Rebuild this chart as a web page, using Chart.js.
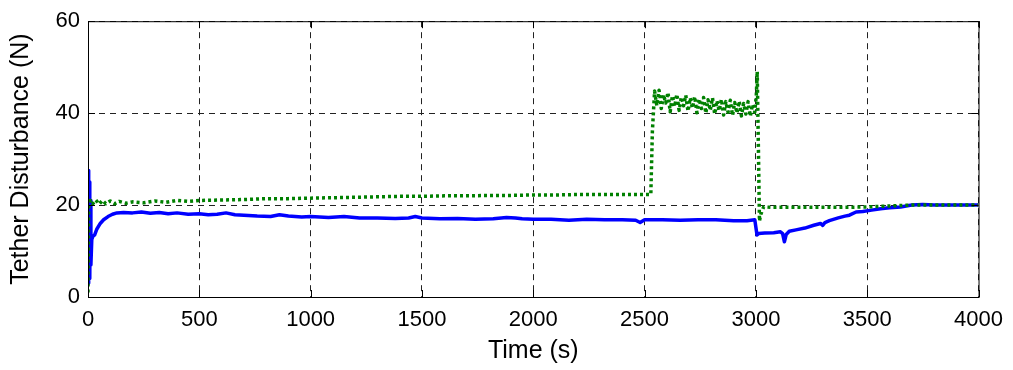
<!DOCTYPE html>
<html>
<head>
<meta charset="utf-8">
<script src="https://cdn.jsdelivr.net/npm/chart.js@4.4.0/dist/chart.umd.min.js"></script>
<style>
  html, body { margin: 0; padding: 0; background: #fff; }
  #wrap { width: 1013px; height: 370px; }
</style>
</head>
<body>
<div id="wrap"><canvas id="tetherChart" width="1013" height="370"></canvas></div>
<script>
// tether disturbance, blue = measured, green = reference (dotted)
const blueTime = [0, 2, 4, 6, 8, 10, 13, 17, 22, 30, 40, 55, 70, 90, 110, 130, 160, 200, 240, 280,
  320, 360, 400, 450, 500, 540, 580, 620, 660, 700, 760, 820, 860, 900, 960, 1000, 1080, 1150, 1220,
  1300, 1380, 1440, 1470, 1500, 1580, 1660, 1740, 1820, 1880, 1920, 1950, 2000, 2080, 2160, 2240,
  2320, 2400, 2460, 2480, 2500, 2580, 2660, 2740, 2820, 2900, 2960, 2995, 3005, 3012, 3040, 3080,
  3110, 3120, 3128, 3136, 3150, 3180, 3220, 3260, 3290, 3300, 3310, 3330, 3370, 3400, 3420, 3450,
  3480, 3520, 3560, 3600, 3650, 3700, 3750, 3800, 3900, 4000];
const blueForce = [3, 27.5, 5, 25, 4, 21, 7, 12.5, 13.2, 13.5, 14.8, 16, 16.8, 17.5, 18, 18.3, 18.4, 18.3, 18.5, 18.2,
  18.4, 18.1, 18.3, 18.0, 18.1, 17.9, 18.0, 18.3, 17.9, 17.8, 17.6, 17.5, 17.9, 17.6, 17.4, 17.5, 17.3, 17.5, 17.2,
  17.2, 17.1, 17.2, 17.5, 17.2, 17.0, 17.1, 16.9, 17.0, 17.3, 17.2, 17.0, 16.9, 16.9, 16.7, 16.9,
  16.8, 16.8, 16.7, 16.2, 16.8, 16.8, 16.7, 16.8, 16.8, 16.6, 16.6, 16.8, 13.5, 13.8, 13.9, 14.0,
  14.2, 13.8, 12.0, 13.6, 14.3, 14.6, 15.0, 15.6, 16.0, 15.6, 16.2, 16.6, 17.2, 17.6, 17.8, 18.5,
  18.6, 18.9, 19.2, 19.4, 19.6, 20.0, 20.1, 20.0, 20.0, 20.0];

const greenTime = [0, 3, 10, 20, 35, 50, 65, 80, 100, 120, 140, 170, 200, 250, 300, 350, 400, 450, 500,
  600, 700, 800, 900, 1000, 1100, 1200, 1300, 1400, 1500, 1600, 1700, 1800, 1900, 2000, 2100, 2200,
  2300, 2400, 2500, 2528, 2535,
  2545, 2555, 2565, 2575, 2585, 2595, 2605, 2615, 2625, 2635, 2645, 2655, 2665, 2675, 2685, 2695,
  2705, 2715, 2725, 2735, 2745, 2755, 2765, 2775, 2785, 2795, 2805, 2815, 2825, 2835, 2845, 2855,
  2865, 2875, 2885, 2895, 2905, 2915, 2925, 2935, 2945, 2955, 2965, 2975, 2985, 2995,
  3002, 3006, 3012, 3016, 3022, 3035, 3070, 3200, 3400, 3500, 3600, 3700, 4000];
const greenForce = [1, 20, 21, 20.2, 21.1, 20.2, 21, 20.3, 20.9, 20.3, 20.8, 20.4, 20.7, 20.5, 20.9, 20.6, 21.0, 20.8, 21.0,
  21.1, 21.2, 21.4, 21.4, 21.5, 21.6, 21.7, 21.8, 21.9, 21.9, 22.0, 22.0, 22.1, 22.1, 22.2, 22.2, 22.3,
  22.3, 22.3, 22.3, 22.3, 36,
  44.8, 41.6, 45.0, 41.0, 44.0, 42.2, 44.5, 40.3, 43.8, 41.4, 44.1, 40.6, 43.5, 41.6, 43.9, 40.4,
  43.3, 41.1, 43.6, 40.1, 43.1, 41.0, 43.4, 40.0, 42.9, 40.6, 43.3, 39.8, 42.7, 40.5, 43.0, 39.6,
  42.5, 40.2, 42.8, 39.5, 42.3, 40.0, 42.6, 39.4, 42.1, 39.8, 42.5, 39.3, 41.9, 40.2,
  44, 49, 30, 16.5, 18, 19.6, 19.5, 19.5, 19.5, 19.6, 19.8, 20.0, 20.0];

const xTicks = [0, 500, 1000, 1500, 2000, 2500, 3000, 3500, 4000];
const yTicks = [0, 20, 40, 60];

const toPoints = (xs, ys) => xs.map((x, i) => ({ x: x, y: ys[i] }));

// solid frame around the plot area plus short inward tick marks
const framePlugin = {
  id: 'frame',
  afterDraw(chart) {
    const { ctx, chartArea: a, scales } = chart;
    ctx.save();
    ctx.strokeStyle = '#000';
    ctx.lineWidth = 1;
    ctx.setLineDash([]);
    ctx.strokeRect(a.left + 0.5, a.top + 0.5, a.right - a.left, a.bottom - a.top);
    const len = 7;
    ctx.beginPath();
    xTicks.forEach(v => {
      const px = Math.round(scales.x.getPixelForValue(v)) + 0.5;
      ctx.moveTo(px, a.bottom); ctx.lineTo(px, a.bottom - len);
      ctx.moveTo(px, a.top); ctx.lineTo(px, a.top + len);
    });
    yTicks.forEach(v => {
      const py = Math.round(scales.y.getPixelForValue(v)) + 0.5;
      ctx.moveTo(a.left, py); ctx.lineTo(a.left + len, py);
      ctx.moveTo(a.right, py); ctx.lineTo(a.right - len, py);
    });
    ctx.stroke();
    ctx.restore();
  }
};

const font = { family: 'Liberation Sans, Arial, sans-serif', size: 22 };
const titleFont = { family: 'Liberation Sans, Arial, sans-serif', size: 25 };

new Chart(document.getElementById('tetherChart'), {
  type: 'line',
  data: {
    datasets: [
      {
        label: 'Reference',
        data: toPoints(greenTime, greenForce),
        borderColor: '#008000',
        borderWidth: 3.5,
        borderDash: [3, 3],
        borderJoinStyle: 'round',
        pointRadius: 0,
        tension: 0
      },
      {
        label: 'Disturbance',
        data: toPoints(blueTime, blueForce),
        borderColor: '#0000ff',
        borderWidth: 3.5,
        borderJoinStyle: 'round',
        pointRadius: 0,
        tension: 0
      }
    ]
  },
  options: {
    responsive: false,
    animation: false,
    layout: { padding: { left: 0, right: 32, top: 14, bottom: 0 } },
    plugins: { legend: { display: false }, tooltip: { enabled: false } },
    scales: {
      x: {
        type: 'linear',
        min: 0,
        max: 4000,
        afterFit(scale) { scale.height = 73; },
        afterBuildTicks(scale) { scale.ticks = xTicks.map(v => ({ value: v })); },
        ticks: { color: '#000', font: font, padding: 10, maxRotation: 0, callback: v => String(v) },
        grid: { color: '#222', lineWidth: 1, drawTicks: false },
        border: { display: false, dash: [6, 5] },
        title: { display: true, text: 'Time (s)', color: '#000', font: titleFont, padding: { top: 0, bottom: 4 } }
      },
      y: {
        min: 0,
        max: 60,
        afterFit(scale) { scale.width = 88; },
        afterBuildTicks(scale) { scale.ticks = yTicks.map(v => ({ value: v })); },
        ticks: { color: '#000', font: font, padding: 8, callback: v => String(v) },
        grid: { color: '#222', lineWidth: 1, drawTicks: false },
        border: { display: false, dash: [6, 5] },
        title: { display: true, text: 'Tether Disturbance (N)', color: '#000', font: titleFont, padding: { top: 6, bottom: 0 } }
      }
    }
  },
  plugins: [framePlugin]
});
</script>
</body>
</html>
